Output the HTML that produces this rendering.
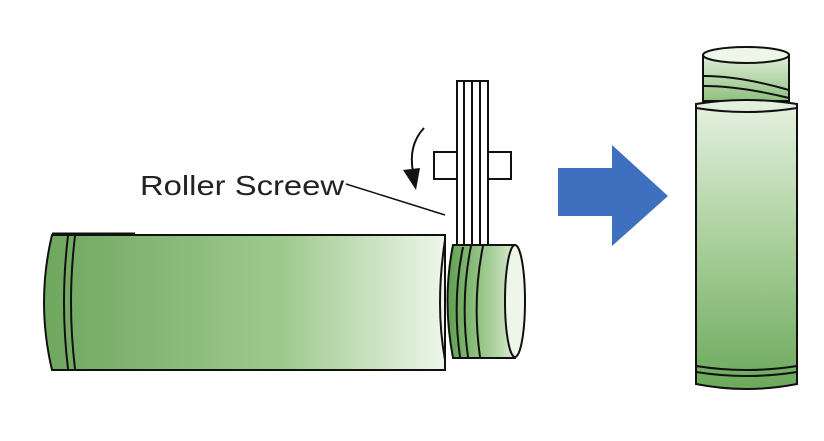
<!DOCTYPE html>
<html><head><style>
html,body{margin:0;padding:0;background:#fff;width:824px;height:441px;overflow:hidden}
</style></head><body>
<svg width="824" height="441" viewBox="0 0 824 441" xmlns="http://www.w3.org/2000/svg">
<defs>
<linearGradient id="gh" x1="0" x2="1" y1="0" y2="0">
<stop offset="0" stop-color="#6fa75f"/><stop offset="0.6" stop-color="#9fca8f"/><stop offset="1" stop-color="#eef6ea"/>
</linearGradient>
<linearGradient id="gc" x1="0" x2="1" y1="0" y2="0">
<stop offset="0" stop-color="#5f9f50"/><stop offset="0.6" stop-color="#a8d09a"/><stop offset="1" stop-color="#e8f3e4"/>
</linearGradient>
<linearGradient id="gv" x1="0" x2="0" y1="0" y2="1">
<stop offset="0" stop-color="#e6f1e1"/><stop offset="0.5" stop-color="#a9cf9b"/><stop offset="1" stop-color="#6ca95c"/>
</linearGradient>
<linearGradient id="gt" x1="0" x2="0" y1="0" y2="1">
<stop offset="0" stop-color="#eef6ea"/><stop offset="1" stop-color="#8fc07f"/>
</linearGradient>
</defs>
<path d="M52 235 L445 235 L445 370 L52 370 Q36 302 52 235 Z" fill="url(#gh)" stroke="#111" stroke-width="2"/>
<path d="M52 234 L135 234" stroke="#111" stroke-width="3"/>
<path d="M68 236 Q60 302 68 369" fill="none" stroke="#111" stroke-width="2"/>
<path d="M75 236 Q67 302 75 369" fill="none" stroke="#111" stroke-width="2"/>
<path d="M445 240 Q435 305 445 360" fill="none" stroke="#111" stroke-width="2"/>
<path d="M453 245 L515 245 Q528 300 515 358 L453 358 Q442 300 453 245 Z" fill="url(#gc)" stroke="#111" stroke-width="2"/>
<ellipse cx="515" cy="301" rx="10" ry="56" fill="#eef6ea" stroke="#111" stroke-width="2"/>
<path d="M463 247 Q452 300 460 357" fill="none" stroke="#111" stroke-width="2"/>
<path d="M471 246 Q460 300 468 357" fill="none" stroke="#111" stroke-width="2"/>
<path d="M483 246 Q472 300 480 357" fill="none" stroke="#111" stroke-width="2"/>
<rect x="434" y="152" width="24" height="27" fill="#fff" stroke="#111" stroke-width="2"/>
<rect x="487" y="152" width="24" height="27" fill="#fff" stroke="#111" stroke-width="2"/>
<rect x="457" y="81" width="31" height="164" fill="#fff" stroke="#111" stroke-width="2"/>
<line x1="464" y1="82" x2="464" y2="244" stroke="#111" stroke-width="2"/>
<line x1="472" y1="82" x2="472" y2="244" stroke="#111" stroke-width="2"/>
<line x1="480" y1="82" x2="480" y2="244" stroke="#111" stroke-width="2"/>
<path d="M424 128 Q408 145 413 172" fill="none" stroke="#111" stroke-width="2"/>
<polygon points="403,170 420,168 416,190" fill="#111"/>
<text x="140" y="195" font-family="Liberation Sans, sans-serif" font-size="28" fill="#222" textLength="204" lengthAdjust="spacingAndGlyphs">Roller Screew</text>
<line x1="346" y1="184" x2="445" y2="215" stroke="#111" stroke-width="1.5"/>
<polygon points="558,168 612,168 612,145 668,196 612,246 612,216 558,216" fill="#3f6fbf"/>
<path d="M703 101 L703 55 Q746 40 789 55 L789 101 Z" fill="url(#gt)" stroke="#111" stroke-width="2"/>
<ellipse cx="746" cy="55" rx="43" ry="8" fill="#eef6ea" stroke="#111" stroke-width="2"/>
<path d="M704 76 Q740 76 789 90" fill="none" stroke="#111" stroke-width="2"/>
<path d="M704 86 Q740 86 789 98" fill="none" stroke="#111" stroke-width="2"/>
<path d="M696 104 Q746 96 797 104 L797 384 Q746 394 696 384 Z" fill="url(#gv)" stroke="#111" stroke-width="2"/>
<path d="M696 108 Q746 116 797 108" fill="none" stroke="#111" stroke-width="2"/>
<path d="M696 366 Q746 374 797 366" fill="none" stroke="#111" stroke-width="2"/>
<path d="M696 372 Q746 380 797 372" fill="none" stroke="#111" stroke-width="2"/>
</svg>
</body></html>
